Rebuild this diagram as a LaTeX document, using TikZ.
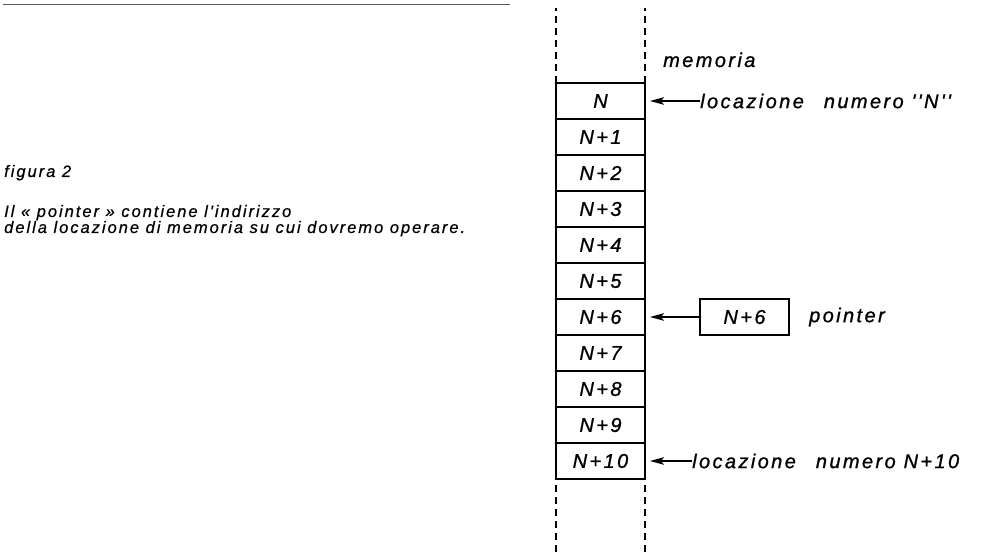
\documentclass[tikz,border=0pt]{standalone}
\usepackage{fontspec}
\newfontfamily\memfont[LetterSpace=12, FakeBold=1]{Liberation Sans}
\newfontfamily\captfont[LetterSpace=12, FakeBold=0.6]{Liberation Sans}
\usetikzlibrary{arrows.meta,positioning}

\begin{document}
\begin{tikzpicture}[x=1pt, y=1pt,
  cell/.style={draw, line width=1.1pt, minimum width=89pt, minimum height=36pt,
               inner sep=0pt, outer sep=0pt,
               font=\memfont\itshape\fontsize{20}{22}\selectfont},
  lab/.style={inner sep=0pt, font=\memfont\itshape\fontsize{20}{22}\selectfont},
  capt/.style={inner sep=0pt, anchor=base west,
               font=\captfont\itshape\fontsize{16.5}{17}\selectfont},
  arr/.style={-{Stealth[length=14pt, width=7.5pt, inset=3pt]}, line width=1.4pt, shorten >=5pt},
  wall/.style={dash pattern=on 7pt off 5pt, line width=1.5pt}
]
  \useasboundingbox (0,0) rectangle (989,556);
  \draw[line width=1pt, black!65] (3,551) -- (510,551);

  % memory column
  \node[cell] (m0) at (600.5,455) {N};
  \foreach \i [remember=\i as \j (initially 0)] in {1,...,10}
    \node[cell, below=0pt of m\j] (m\i) {N+\i};

  \draw[wall] (m0.north west) -- ++(0,75);
  \draw[wall] (m0.north east) -- ++(0,75);
  \draw[wall] ([yshift=-6pt]m10.south west) -- ++(0,-73);
  \draw[wall] ([yshift=-6pt]m10.south east) -- ++(0,-73);

  \node[lab, anchor=base west] (mem) at ([shift={(18pt,16pt)}]m0.north east) {memoria};

  % labels and pointer
  \node[lab, right=55pt of m0]   (locN)   {locazione\quad numero ''N''};
  \node[cell, right=55pt of m6]  (ptr)    {N+6};
  \node[lab, right=20pt of ptr]  (ptrlab) {pointer};
  \node[lab, right=47pt of m10]  (locNx)  {locazione\quad numero N+10};

  \draw[arr] (locN)  -- (m0);
  \draw[arr] (ptr)   -- (m6);
  \draw[arr] (locNx) -- (m10);

  % caption
  \node[capt] (fig)  at (4,379) {figura 2};
  \node[capt] (cap1) at ([yshift=-40pt]fig.base west) {Il « pointer » contiene l'indirizzo};
  \node[capt] (cap2) at ([yshift=-16pt]cap1.base west) {della locazione di memoria su cui dovremo operare.};
\end{tikzpicture}
\end{document}
